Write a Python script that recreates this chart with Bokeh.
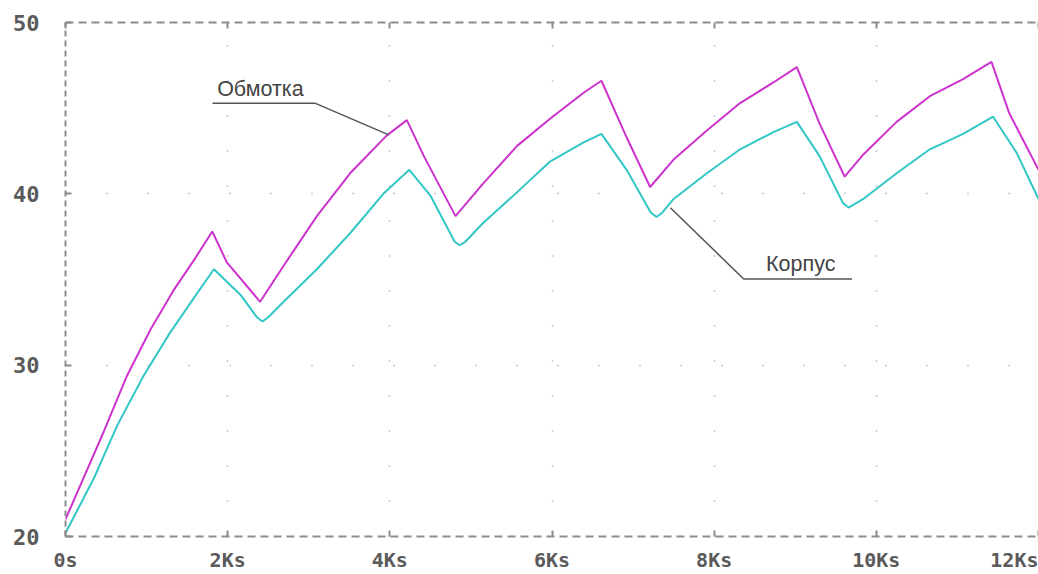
from bokeh.plotting import figure
from bokeh.models import Range1d, LinearAxis, FixedTicker, Label
from bokeh.embed import file_html
from bokeh.resources import INLINE

# ---- data (time in Ks, temperature) ----
t_winding = [0.0, 0.47, 0.76, 1.05, 1.33, 1.58, 1.81, 1.99, 2.40, 2.69, 3.10, 3.51,
             3.96, 4.21, 4.42, 4.81, 5.15, 5.57, 5.98, 6.39, 6.61, 6.92, 7.21, 7.50,
             7.91, 8.32, 8.73, 9.02, 9.30, 9.61, 9.84, 10.25, 10.66, 11.07, 11.42,
             11.64, 12.0]
v_winding = [21.0, 26.1, 29.4, 32.1, 34.35, 36.1, 37.8, 36.0, 33.7, 35.8, 38.7, 41.2,
             43.4, 44.3, 42.2, 38.7, 40.6, 42.8, 44.4, 45.9, 46.6, 43.3, 40.4, 42.0,
             43.7, 45.3, 46.5, 47.4, 44.1, 41.0, 42.3, 44.2, 45.7, 46.7, 47.7,
             44.7, 41.4]

t_case = [0.0, 0.35, 0.64, 0.965, 1.29, 1.58, 1.83, 2.16, 2.36, 2.43, 2.50, 2.69, 3.10,
          3.51, 3.92, 4.24, 4.50, 4.80, 4.86, 4.93, 5.15, 5.57, 5.98, 6.39, 6.61, 6.92,
          7.22, 7.29, 7.36, 7.50, 7.91, 8.32, 8.73, 9.02, 9.30, 9.59, 9.66, 9.73,
          9.84, 10.25, 10.66, 11.07, 11.44, 11.73, 12.0]
v_case = [20.2, 23.4, 26.5, 29.4, 31.9, 33.9, 35.6, 34.1, 32.8, 32.55, 32.8, 33.7, 35.6,
          37.7, 40.0, 41.4, 39.9, 37.2, 37.0, 37.2, 38.3, 40.1, 41.9, 43.0, 43.5, 41.4,
          38.9, 38.65, 38.9, 39.7, 41.2, 42.6, 43.6, 44.2, 42.2, 39.45, 39.2, 39.4,
          39.7, 41.2, 42.6, 43.5, 44.5, 42.4, 39.7]

x_ticks = [0, 2, 4, 6, 8, 10, 12]
x_tick_labels = ["0s", "2Ks", "4Ks", "6Ks", "8Ks", "10Ks", "12Ks"]
y_ticks = [20, 30, 40, 50]
y_tick_labels = ["20", "30", "40", "50"]

label_winding = "Обмотка"
label_case = "Корпус"

# ---- styles ----
AX_COL = "#8c8c8c"
TXT_COL = "#5a5a5a"
TICK_FONT = "DejaVu Sans Mono"

p = figure(width=1038, height=574, output_backend="svg", toolbar_location=None,
           x_range=Range1d(0, 12.0), y_range=Range1d(20, 50),
           min_border_left=65, min_border_right=0, min_border_top=22,
           min_border_bottom=35, x_axis_location=None, y_axis_location=None)
p.outline_line_color = None
p.background_fill_color = "white"
p.border_fill_color = "white"


def style_axis(ax, dash, size="20px"):
    ax.axis_line_color = AX_COL
    ax.axis_line_width = 2
    ax.axis_line_dash = dash
    ax.major_tick_in = 6
    ax.major_tick_out = 0
    ax.major_tick_line_color = AX_COL
    ax.major_tick_line_width = 2
    ax.minor_tick_line_color = None
    ax.major_label_text_font = TICK_FONT
    ax.major_label_text_font_style = "bold"
    ax.major_label_text_font_size = size
    ax.major_label_text_color = TXT_COL


# bottom axis (Bokeh keeps the last label inside the page)
xb = LinearAxis(ticker=FixedTicker(ticks=x_ticks))
style_axis(xb, "8 5")
xb.major_label_overrides = {t: lab for t, lab in zip(x_ticks, x_tick_labels)}
xb.major_label_standoff = 11
p.add_layout(xb, "below")

# top axis (line + ticks only)
xt = LinearAxis(ticker=FixedTicker(ticks=x_ticks))
style_axis(xt, "8 5")
xt.major_label_overrides = {t: "" for t in x_ticks}
xt.major_label_text_font_size = "1px"
xt.major_label_standoff = 0
p.add_layout(xt, "above")

# left axis
yl = LinearAxis(ticker=FixedTicker(ticks=y_ticks))
style_axis(yl, "6 4", size="22px")
yl.major_label_overrides = {t: lab for t, lab in zip(y_ticks, y_tick_labels)}
yl.major_label_standoff = 26
p.add_layout(yl, "left")

# dotted grid
p.xgrid.ticker = FixedTicker(ticks=x_ticks[1:-1])
p.ygrid.ticker = FixedTicker(ticks=y_ticks[1:-1])
p.xgrid.grid_line_color = "#9a9a9a"
p.ygrid.grid_line_color = "#9a9a9a"
p.xgrid.grid_line_dash = "1 34"
p.ygrid.grid_line_dash = "1 40"
p.xgrid.grid_line_width = 1.5
p.ygrid.grid_line_width = 1.5

# curves
p.line(t_winding, v_winding, line_color="#cc33cc", line_width=2)
p.line(t_case, v_case, line_color="#33c6c6", line_width=2)

# leader lines + labels
p.line([1.813, 3.083, 3.987], [45.28, 45.28, 43.44], line_color="#555555", line_width=1.5)
p.line([7.46, 8.364, 9.70], [39.19, 35.03, 35.03], line_color="#555555", line_width=1.5)
p.add_layout(Label(x=1.87, y=45.42, text=label_winding, text_baseline="bottom",
                   text_font="Liberation Sans", text_font_size="21.5px", text_color="#444444"))
p.add_layout(Label(x=8.64, y=35.20, text=label_case, text_baseline="bottom",
                   text_font="Liberation Sans", text_font_size="21.5px", text_color="#444444"))

open("out.html", "w").write(file_html(p, INLINE))
